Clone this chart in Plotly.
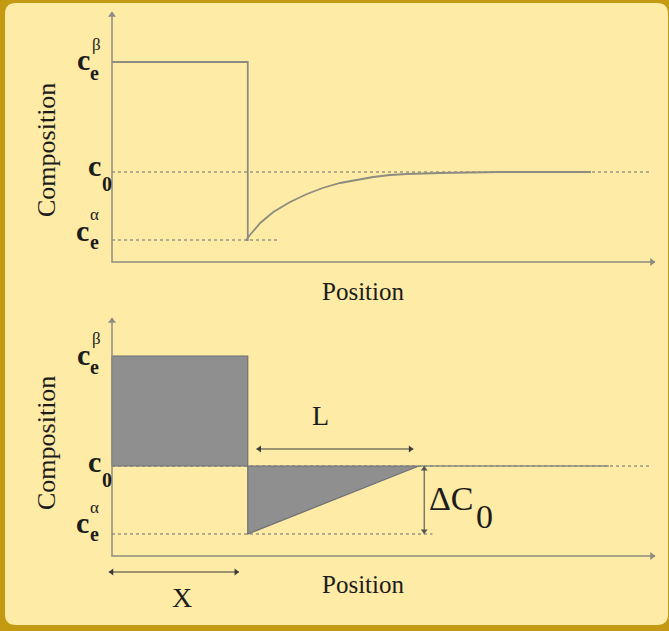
import plotly.graph_objects as go

W, H = 669, 631

# ---- data (arbitrary composition / position units) ----
c_beta = 1.0          # c_e^beta
c_zero = 0.45         # c_0
c_alpha = 0.11        # c_e^alpha
x_interface = 2.5     # position of the step (X)
x_tip = 5.65          # end of the linearised depleted zone (X + L)

# top panel: diffusion profile
curve_x = [2.47, 2.54, 2.73, 2.97, 3.28, 3.59, 3.88, 4.20, 4.51, 4.81, 5.12, 5.43, 6.04, 7.15, 8.82]
curve_y = [0.11, 0.135, 0.195, 0.25, 0.30, 0.34, 0.37, 0.395, 0.41, 0.425, 0.435, 0.44, 0.445, 0.45, 0.45]

dotted_c0_end = 9.9
top_alpha_dot_end = 3.07
bot_alpha_dot_end = 5.9
bot_solid_c0_end = 9.15
L_arrow = [2.66, 5.55]
L_arrow_y = 0.535
dC_arrow_x = 5.75
X_arrow = [-0.06, 2.34]
X_arrow_y = -0.08

x_max = 10.0
y_max_top = 1.25
y_max_bot = 1.19

LINE = "#8d8c80"
DOT = "#9a9884"
FILL = "#8f8f8f"
EDGE = "#6f6f78"
TXT = "#1c1c1c"
ARR = "#3a3a3a"
BG = "#fdeba6"
GOLD = "#c39a12"
FONT = "Liberation Serif, Times New Roman, serif"

PX_PER_X = 54.3   # layout scale (pixels per position unit)
PX_PER_Y = 200.0  # layout scale (pixels per composition unit)


def px(x):
    return x / W


def py(y):
    return 1 - y / H


fig = go.Figure()


def line(x, y, ax, color=LINE, width=1.6, dash=None, fill=None):
    fig.add_trace(go.Scatter(x=x, y=y, mode="lines", fill=fill, fillcolor=FILL if fill else None,
                             line=dict(color=color, width=width, dash=dash),
                             xaxis="x" if ax == 1 else "x2", yaxis="y" if ax == 1 else "y2",
                             hoverinfo="skip", cliponaxis=False))


def heads(x, y, symbols, ax, color=LINE, size=7):
    fig.add_trace(go.Scatter(x=x, y=y, mode="markers",
                             marker=dict(symbol=symbols, size=size, color=color, line=dict(width=0)),
                             xaxis="x" if ax == 1 else "x2", yaxis="y" if ax == 1 else "y2",
                             hoverinfo="skip", cliponaxis=False))


hx = 3.0 / PX_PER_X   # offset so that a marker's tip lands on the end point
hy = 3.0 / PX_PER_Y

# ---------------- top panel ----------------
line([0, dotted_c0_end], [c_zero, c_zero], 1, color=DOT, dash="3px,3px")
line([0, top_alpha_dot_end], [c_alpha, c_alpha], 1, color=DOT, dash="3px,3px")
line([0, x_interface, x_interface] + curve_x, [c_beta, c_beta, c_alpha] + curve_y, 1, width=1.8)
line([0, 0, x_max], [y_max_top, 0, 0], 1, width=1.5)
heads([0, x_max - hx], [y_max_top - hy, 0], ["triangle-up", "triangle-right"], 1)

# ---------------- bottom panel ----------------
line([0, dotted_c0_end], [c_zero, c_zero], 2, color=DOT, dash="3px,3px")
line([0, bot_alpha_dot_end], [c_alpha, c_alpha], 2, color=DOT, dash="3px,3px")
line([0, 0, x_interface, x_interface, 0], [c_zero, c_beta, c_beta, c_zero, c_zero], 2,
     color=EDGE, width=1.2, fill="toself")
line([x_interface, x_interface, x_tip, x_interface], [c_zero, c_alpha, c_zero, c_zero], 2,
     color=EDGE, width=1.2, fill="toself")
line([x_tip, bot_solid_c0_end], [c_zero, c_zero], 2)
line([0, 0, x_max], [y_max_bot, 0, 0], 2, width=1.5)
heads([0, x_max - hx], [y_max_bot - hy, 0], ["triangle-up", "triangle-right"], 2)

# L, delta C0 and X double arrows
line(L_arrow, [L_arrow_y, L_arrow_y], 2, color=ARR, width=1.1)
heads([L_arrow[0] + hx, L_arrow[1] - hx], [L_arrow_y, L_arrow_y], ["triangle-left", "triangle-right"], 2,
      color=ARR, size=6)
line([dC_arrow_x, dC_arrow_x], [c_alpha, c_zero], 2, color="#555555", width=1.1)
heads([dC_arrow_x, dC_arrow_x], [c_alpha + hy, c_zero - hy], ["triangle-down", "triangle-up"], 2,
      color="#555555", size=6)
line(X_arrow, [X_arrow_y, X_arrow_y], 2, color=ARR, width=1.1)
heads([X_arrow[0] + hx, X_arrow[1] - hx], [X_arrow_y, X_arrow_y], ["triangle-left", "triangle-right"], 2,
      color=ARR, size=6)

ann = []


def txt(x, y, s, size, angle=0, bold=False, xanchor="center"):
    ann.append(dict(xref="paper", yref="paper", x=px(x), y=py(y),
                    text=("<b>%s</b>" % s) if bold else s, showarrow=False,
                    textangle=angle, xanchor=xanchor, yanchor="middle", borderpad=0,
                    font=dict(family=FONT, size=size, color=TXT)))


# tick-like labels: main letter, subscript and superscript as separate texts
for yb, y0, ya in ((62, 171, 241), (356, 467, 533)):
    txt(76, yb - 2, "c", 30, bold=True, xanchor="left")
    txt(89.5, yb + 11, "e", 20, bold=True, xanchor="left")
    txt(90.5, yb - 18, "β", 17, xanchor="left")
    txt(94, y0 - 6, "c", 30, bold=True)
    txt(101, y0 + 13, "0", 20, bold=True, xanchor="left")
    txt(75, ya - 11, "c", 30, bold=True, xanchor="left")
    txt(88.5, ya + 1, "e", 20, bold=True, xanchor="left")
    txt(89, ya - 26, "α", 17, xanchor="left")

txt(46, 150, "Composition", 26, -90)
txt(46, 443, "Composition", 26, -90)
txt(363, 291, "Position", 25)
txt(363, 584, "Position", 25)
txt(320, 415, "L", 28)
txt(182, 597, "X", 28)
txt(451, 499, "ΔC", 34)
txt(475, 516, "0", 34, xanchor="left")

# axis geometry: pixel placement of the origin of each panel
X0_PX, Y0_TOP_PX, Y0_BOT_PX = 112, 262, 556
xr = [-0.2, 10.2]
ytr = [-0.06, 1.28]
ybr = [-0.14, 1.22]

fig.update_layout(
    width=W, height=H,
    margin=dict(l=0, r=0, t=0, b=0),
    paper_bgcolor=GOLD,
    plot_bgcolor="rgba(0,0,0,0)",
    showlegend=False,
    annotations=ann,
    xaxis=dict(domain=[px(X0_PX + xr[0] * PX_PER_X), px(X0_PX + xr[1] * PX_PER_X)], range=xr,
               visible=False, fixedrange=True),
    yaxis=dict(domain=[py(Y0_TOP_PX - ytr[0] * PX_PER_Y), py(Y0_TOP_PX - ytr[1] * PX_PER_Y)], range=ytr,
               visible=False, fixedrange=True),
    xaxis2=dict(domain=[px(X0_PX + xr[0] * PX_PER_X), px(X0_PX + xr[1] * PX_PER_X)], range=xr,
                visible=False, fixedrange=True),
    yaxis2=dict(domain=[py(Y0_BOT_PX - ybr[0] * PX_PER_Y), py(Y0_BOT_PX - ybr[1] * PX_PER_Y)], range=ybr,
                visible=False, fixedrange=True),
    shapes=[dict(type="path", xref="paper", yref="paper", layer="below",
                 path=("M {a},{b} L {c},{b} Q {d},{b} {d},{e} L {d},{f} Q {d},{g} {c},{g} "
                       "L {a},{g} Q {h},{g} {h},{f} L {h},{e} Q {h},{b} {a},{b} Z").format(
                     a=px(16), b=py(3), c=px(657), d=px(668), e=py(14), f=py(614), g=py(625), h=px(5)),
                 fillcolor=BG, line=dict(width=0))],
)

fig.write_html("out.html", config={"displayModeBar": False},
               post_script="document.body.style.margin='0px';document.body.style.overflow='hidden';")
